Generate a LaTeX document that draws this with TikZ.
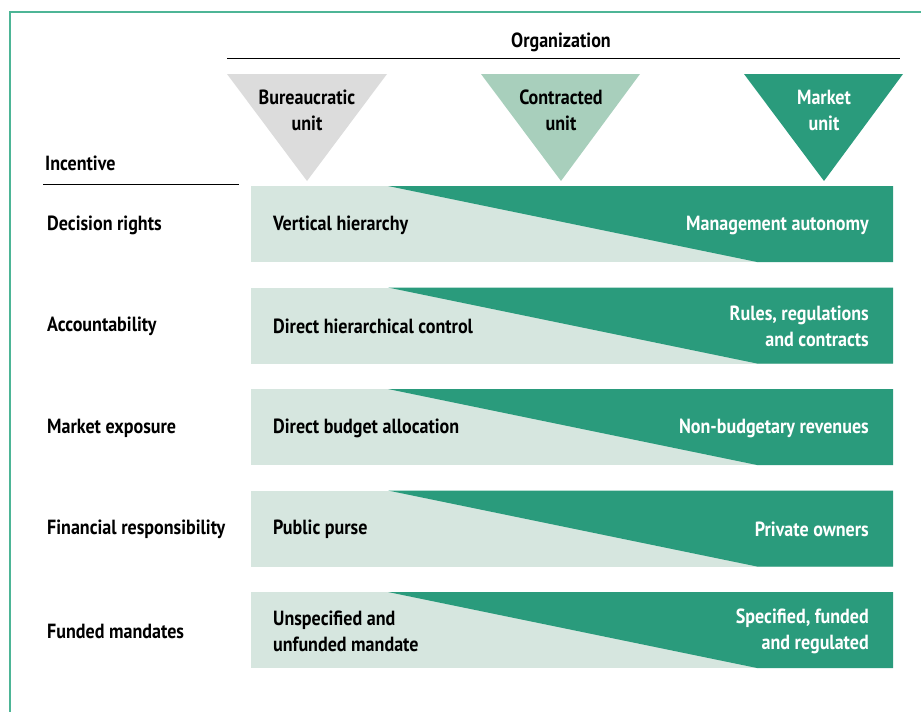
\documentclass[tikz,border=0pt]{standalone}
\usepackage{fontspec}
\setmainfont{PT Sans}[FakeStretch=0.88]
\definecolor{mktgreen}{HTML}{2A9B7C}
\definecolor{palegreen}{HTML}{D6E6DF}
\definecolor{midgreen}{HTML}{A8CFBC}
\definecolor{unitgray}{HTML}{DCDCDC}
\definecolor{framegreen}{HTML}{4DB596}
\tikzset{
  txt/.style={font=\bfseries\fontsize{20.5}{26}\selectfont, inner sep=0pt},
  unitlbl/.style={txt, align=center},
  rowlbl/.style={txt, anchor=west, align=left},
  oldlbl/.style={txt, anchor=west, align=left},
  newlbl/.style={txt, anchor=east, align=right, text=white}
}
\begin{document}
\begin{tikzpicture}[x=1pt,y=-1pt]
\useasboundingbox (0,0) rectangle (921,712);
\draw[framegreen, line width=1.5pt] (921,12) -- (10,12) -- (10,712); %frame

% organization header
\node[txt] (org) at (561,42) {Organization};
\draw[line width=1pt] (227,58) -- (900,58);
\fill[unitgray] (227,74) -- (387,74) -- (307,181) -- cycle;
\fill[midgreen] (481,74) -- (640,74) -- (561,181) -- cycle;
\fill[mktgreen] (744,74) -- (903,74) -- (824,181) -- cycle;
\node[unitlbl] (bur) at (307,110) {Bureaucratic\\unit};
\node[unitlbl] (con) at (561,110) {Contracted\\unit};
\node[unitlbl, text=white] (mkt) at (824,110) {Market\\unit};

% incentive header
\node[rowlbl] (inc) at (45,163) {Incentive};
\draw[line width=1pt] (43,184) -- (239,184);

% rows
\foreach \i/\inc/\lft/\rgt in {
  0/{Decision rights}/{Vertical hierarchy}/{Management autonomy},
  1/{Accountability}/{Direct hierarchical control}/{Rules, regulations\\and contracts},
  2/{Market exposure}/{Direct budget allocation}/{Non-budgetary revenues},
  3/{Financial responsibility}/{Public purse}/{Private owners},
  4/{Funded mandates}/{Unspecified and\\unfunded mandate}/{Specified, funded\\and regulated}}
{
  \pgfmathsetmacro\rowtop{186+101.5*\i}
  \fill[palegreen] (251,\rowtop) rectangle (893,\rowtop+76);
  \fill[mktgreen] (388,\rowtop) -- (893,\rowtop) -- (893,\rowtop+76) -- (757,\rowtop+76) -- cycle;
  \node[rowlbl] (incentive\i) at (47,\rowtop+39) {\inc};
  \node[oldlbl] (old\i) at (273,\rowtop+39) {\lft};
  \node[newlbl] (new\i) at (869,\rowtop+39) {\rgt};
}
\end{tikzpicture}
\end{document}
